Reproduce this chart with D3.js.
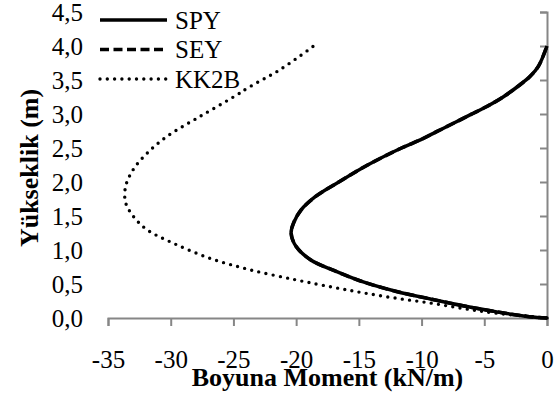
<!DOCTYPE html>
<html>
<head>
<meta charset="utf-8">
<script src="https://cdn.jsdelivr.net/npm/d3@7"></script>
<style>
  body { margin: 0; background: #fff; }
  svg text { font-family: "Liberation Serif", "Times New Roman", serif; fill: #000; }
</style>
</head>
<body>
<div id="chart"></div>
<script>
// series names (legend order)
const seriesNames = ["SPY", "SEY", "KK2B"];

// SPY: height (m) and moment (kN/m)
const spyHeight = [0.00, 0.02, 0.09, 0.18, 0.28, 0.39, 0.53, 0.70, 0.85, 1.05, 1.25, 1.40, 1.59, 1.78, 2.00, 2.25, 2.50, 2.62, 2.74, 2.86, 2.99, 3.11, 3.25, 3.43, 3.55, 3.70, 4.00];
const spyMoment = [0, -1.4, -4.0, -6.7, -9.3, -12.0, -14.65, -17.0, -18.8, -20.0, -20.4, -20.2, -19.6, -18.5, -16.6, -14.3, -11.6, -10.1, -8.8, -7.5, -6.1, -4.8, -3.5, -2.15, -1.36, -0.69, 0];

// SEY: hidden under SPY in the picture
const seyHeight = spyHeight.slice();
const seyMoment = spyMoment.slice();

// KK2B
const kkHeight = [0.00, 0.07, 0.14, 0.22, 0.29, 0.37, 0.45, 0.56, 0.71, 0.88, 1.10, 1.30, 1.50, 1.70, 1.93, 2.18, 2.42, 2.67, 2.96, 3.25, 3.40, 3.65, 4.00];
const kkMoment = [0, -4.0, -6.7, -9.3, -12.0, -14.65, -17.0, -20.0, -23.7, -26.9, -29.8, -31.9, -33.0, -33.6, -33.6, -33.0, -31.9, -30.3, -27.7, -25.0, -23.7, -21.3, -18.6];

// ticks
const xTicks = [-35, -30, -25, -20, -15, -10, -5, 0];
const yTicks = [0, 0.5, 1, 1.5, 2, 2.5, 3, 3.5, 4, 4.5];

const width = 557, height = 398;

const svg = d3.select("#chart")
    .append("svg")
    .attr("width", width)
    .attr("height", height);

const x = d3.scaleLinear().domain([-35, 0]).range([108, 547]);
const y = d3.scaleLinear().domain([0, 4.5]).range([318, 12]);

const axisColor = "#868686";

// X axis
const gx = svg.append("g")
    .attr("transform", `translate(0,${y(0)})`)
    .call(d3.axisBottom(x).tickValues(xTicks).tickSize(8).tickPadding(24)
        .tickFormat(d => String(d)));
gx.selectAll("text").attr("font-size", 25).attr("dy", "0.71em");

// Y axis line with inside ticks at x = 0
svg.append("g")
    .attr("transform", `translate(${x(0)},0)`)
    .call(d3.axisLeft(y).tickValues(yTicks).tickSize(7).tickFormat(""));

// Y tick labels at the left edge
const gyl = svg.append("g")
    .attr("transform", `translate(83,0)`)
    .call(d3.axisLeft(y).tickValues(yTicks).tickSize(0).tickPadding(0)
        .tickFormat(d => d3.format(".1f")(d).replace(".", ",")));
gyl.select(".domain").remove();
gyl.selectAll("text").attr("font-size", 25).attr("dy", "0.35em");

svg.selectAll(".domain, .tick line")
    .attr("stroke", axisColor)
    .attr("stroke-width", 2);

// lines
const line = d3.line()
    .x(d => x(d[1]))
    .y(d => y(d[0]))
    .curve(d3.curveCatmullRom);

const styles = {
    SPY: { dash: null, width: 3.5, cap: "butt" },
    SEY: { dash: "9 4.5", width: 3.5, cap: "butt" },
    KK2B: { dash: "0 7.3", width: 3.4, cap: "round" }
};

const series = [
    { name: "SEY", data: d3.zip(seyHeight, seyMoment) },
    { name: "KK2B", data: d3.zip(kkHeight, kkMoment) },
    { name: "SPY", data: d3.zip(spyHeight, spyMoment) }
];

svg.append("g")
    .selectAll("path")
    .data(series)
    .join("path")
    .attr("d", d => line(d.data))
    .attr("fill", "none")
    .attr("stroke", "#000")
    .attr("stroke-width", d => styles[d.name].width)
    .attr("stroke-dasharray", d => styles[d.name].dash)
    .attr("stroke-linecap", d => styles[d.name].cap);

// legend
const legend = svg.append("g")
    .selectAll("g")
    .data(seriesNames)
    .join("g")
    .attr("transform", (d, i) => `translate(100,${20 + i * 29.5})`);

legend.append("line")
    .attr("x1", 0).attr("x2", 67)
    .attr("stroke", "#000")
    .attr("stroke-width", d => styles[d].width)
    .attr("stroke-dasharray", d => styles[d].dash)
    .attr("stroke-linecap", d => styles[d].cap);

legend.append("text")
    .attr("x", 75)
    .attr("dy", "0.35em")
    .attr("font-size", 25)
    .text(d => d);

// axis titles
svg.append("text")
    .attr("x", (x(-35) + x(0)) / 2)
    .attr("y", 386)
    .attr("text-anchor", "middle")
    .attr("font-size", 26)
    .attr("font-weight", "bold")
    .text("Boyuna Moment (kN/m)");

svg.append("text")
    .attr("transform", "translate(38,168) rotate(-90)")
    .attr("text-anchor", "middle")
    .attr("font-size", 26)
    .attr("font-weight", "bold")
    .text("Yükseklik (m)");
</script>
</body>
</html>
